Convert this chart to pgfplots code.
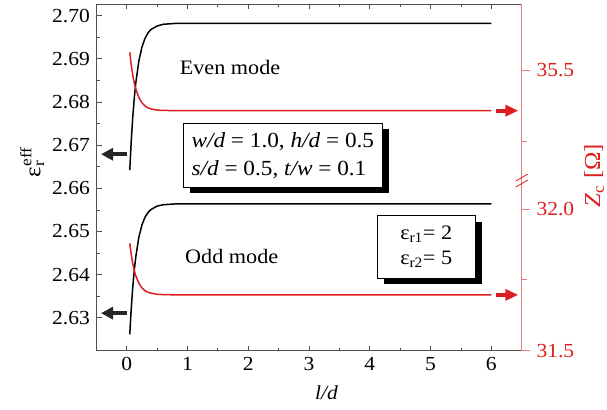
\documentclass[border=0pt]{standalone}
\usepackage{pgfplots}
\pgfplotsset{compat=1.18}
\usepackage{fontspec}
\setmainfont{Liberation Serif}[FakeStretch=1.08]
\usetikzlibrary{arrows.meta,shadows,calc}
\definecolor{zred}{RGB}{222,30,30}
\definecolor{zaxis}{RGB}{235,125,125}
\definecolor{axgray}{RGB}{80,80,80}

\begin{document}
\fontsize{20}{24}\selectfont
\begin{tikzpicture}
\begin{axis}[
  scale only axis, width=425bp, height=346.7bp,
  xmin=-0.494, xmax=6.5, ymin=2.6224, ymax=2.7027,
  axis x line*=box, axis y line*=left,
  axis line style={axgray, line width=0.9bp},
  every tick/.style={axgray, line width=0.8bp},
  xtick={0,1,2,3,4,5,6}, minor x tick num=1,
  ytick={2.63,2.64,2.65,2.66,2.67,2.68,2.69,2.70}, minor y tick num=1,
  xtick pos=both, ytick pos=left,
  tick align=inside,
  major tick length=5bp, minor tick length=3bp,
  /pgf/number format/assume math mode=true,
  yticklabel style={/pgf/number format/fixed, /pgf/number format/precision=2, /pgf/number format/fixed zerofill},
  xlabel={\textit{l/d}},
  xlabel style={at={(axis description cs:0.541,-0.122)}, anchor=center},
  clip=false,
]
\coordinate (sw) at (rel axis cs:0,0);
\coordinate (ne) at (rel axis cs:1,1);
\node[rotate=90, font={\fontsize{23}{26}\selectfont}] at (rel axis cs:-0.152,0.525) {ε\rlap{\textsuperscript{eff}}\textsubscript{r}};
% even mode, effective permittivity
\addplot[black, line width=1.5bp] table {
x y
0.05 2.6642
0.075 2.6711
0.1 2.6766
0.125 2.6810
0.15 2.6845
0.2 2.6895
0.25 2.6927
0.3 2.6947
0.35 2.6960
0.4 2.6968
0.5 2.6976
0.6 2.6980
0.8 2.6982
1.0 2.6982
6.0 2.6982
};
% odd mode
\addplot[black, line width=1.5bp] table {
x y
0.05 2.6262
0.075 2.6323
0.1 2.6372
0.125 2.6411
0.15 2.6442
0.2 2.6487
0.25 2.6515
0.3 2.6533
0.35 2.6544
0.4 2.6551
0.5 2.6559
0.6 2.6562
0.8 2.6564
1.0 2.6564
6.0 2.6564
};
\draw[-{Triangle[length=12bp,width=12bp]}, line width=4bp, black!85] (axis cs:0.0,2.6679) -- (axis cs:-0.423,2.6679);
\draw[-{Triangle[length=12bp,width=12bp]}, line width=4bp, black!85] (axis cs:0.0,2.6311) -- (axis cs:-0.423,2.6311);
\node[font={\fontsize{20.6}{24}\selectfont}] at (axis cs:1.70,2.6881) {Even mode};
\node[font={\fontsize{20.6}{24}\selectfont}] at (axis cs:1.728,2.6443) {Odd mode};
\node[draw=black, fill=white, line width=1bp,
  drop shadow={shadow xshift=7bp, shadow yshift=-6bp, fill=black, opacity=1},
  minimum width=199bp, minimum height=64bp, align=left, inner sep=4bp,
  font={\fontsize{21.6}{28}\selectfont}]
  at (axis cs:2.569,2.66764) {\textit{w/d} = 1.0, \textit{h/d} = 0.5\\\textit{s/d} = 0.5, \textit{t/w} = 0.1};
\node[draw=black, fill=white, line width=1bp,
  drop shadow={shadow xshift=7bp, shadow yshift=-6bp, fill=black, opacity=1},
  minimum width=97.7bp, minimum height=62.6bp, align=left, inner sep=4bp,
  font={\fontsize{20.6}{25}\selectfont}]
  at (axis cs:4.928,2.6464) {ε\textsubscript{r1}= 2\\ε\textsubscript{r2}= 5};
\end{axis}

\begin{axis}[
  scale only axis, width=425bp, height=346.7bp,
  xmin=-0.494, xmax=6.5, ymin=31.5, ymax=32.7234,
  axis x line=none, axis y line*=right,
  axis line style={zaxis, line width=0.9bp},
  every tick/.style={zaxis, line width=0.8bp},
  ytick={31.5,32.0,32.49}, yticklabels={31.5,32.0,35.5},
  minor ytick={31.75,32.24},
  tick align=outside, major tick length=8bp, minor tick length=5bp,
  yticklabel style={zred},
  clip=false,
]
\node[rotate=90, zred, font={\fontsize{23}{26}\selectfont}] at (rel axis cs:1.1705,0.505) {\textit{Z}\textsubscript{c} [Ω]};
% even mode impedance (upper segment, shifted across the axis break)
\addplot[zred, line width=1.5bp] table[y expr=\thisrow{Z}-3.01] {
x Z
0.05 35.563
0.075 35.517
0.1 35.482
0.125 35.454
0.15 35.433
0.2 35.403
0.25 35.385
0.3 35.374
0.35 35.367
0.4 35.363
0.5 35.359
0.6 35.358
0.8 35.357
1.0 35.357
6.0 35.357
};
% odd mode impedance
\addplot[zred, line width=1.5bp] table {
x Z
0.05 31.879
0.075 31.839
0.1 31.807
0.125 31.783
0.15 31.764
0.2 31.738
0.25 31.722
0.3 31.712
0.35 31.706
0.4 31.703
0.5 31.699
0.6 31.698
0.8 31.697
1.0 31.697
6.0 31.697
};
\draw[-{Triangle[length=13bp,width=11bp]}, line width=4bp, zred] (axis cs:6.077,32.347) -- (axis cs:6.444,32.347);
\draw[-{Triangle[length=13bp,width=11bp]}, line width=4bp, zred] (axis cs:6.077,31.697) -- (axis cs:6.444,31.697);
\draw[zred, line width=0.8bp] ($(axis cs:6.5,32.102)+(-6bp,-1bp)$) -- ($(axis cs:6.5,32.102)+(6bp,6bp)$);
\draw[zred, line width=0.8bp] ($(axis cs:6.5,32.102)+(-6bp,-7bp)$) -- ($(axis cs:6.5,32.102)+(6bp,0bp)$);
\end{axis}
\pgfresetboundingbox
\path ($(sw)+(-96.7bp,-59.3bp)$) rectangle ($(ne)+(85.3bp,4bp)$);
\end{tikzpicture}
\end{document}
